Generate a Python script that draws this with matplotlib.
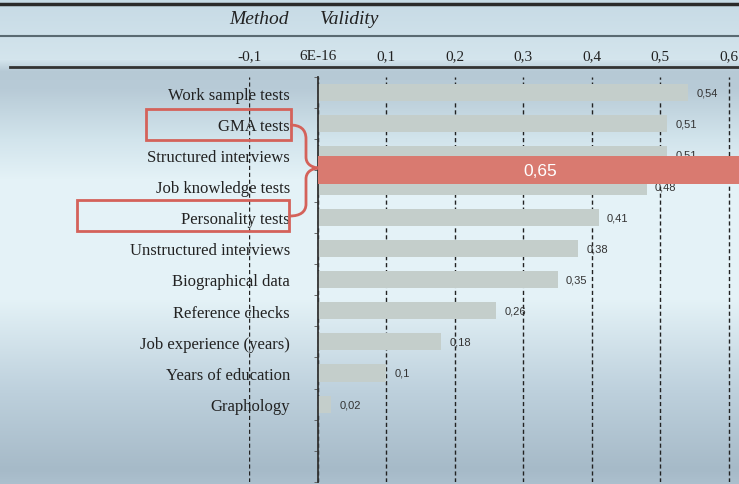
import numpy as np
import matplotlib.pyplot as plt
from matplotlib.path import Path
from matplotlib.patches import PathPatch, Rectangle

methods = ["Work sample tests", "GMA tests", "Structured interviews", "Job knowledge tests",
           "Personality tests", "Unstructured interviews", "Biographical data",
           "Reference checks", "Job experience (years)", "Years of education", "Graphology"]
validity = [0.54, 0.51, 0.51, 0.48, 0.41, 0.38, 0.35, 0.26, 0.18, 0.1, 0.02]
value_labels = ["0,54", "0,51", "0,51", "0,48", "0,41", "0,38", "0,35", "0,26", "0,18", "0,1", "0,02"]
combined = 0.65
combined_label = "0,65"
x_ticks = [-0.1, 0.0, 0.1, 0.2, 0.3, 0.4, 0.5, 0.6]
x_tick_labels = ["-0,1", "6E-16", "0,1", "0,2", "0,3", "0,4", "0,5", "0,6"]
n_rows = 13

W, H = 739, 485
serif = "Liberation Serif"
sans = "Liberation Sans"
bar_gray = "#c4cecb"
red = "#d97a70"
box_red = "#d4625a"

fig = plt.figure(figsize=(W / 100, H / 100), dpi=100)

# slide background gradient
bg = fig.add_axes([0, 0, 1, 1])
stops_y = [0, 60, 72, 90, 140, 180, 300, 390, 470, 485]
stops_c = np.array([(198, 218, 229), (212, 229, 237), (182, 201, 213), (184, 203, 215),
                    (210, 228, 236), (228, 242, 247), (228, 242, 247), (190, 209, 221),
                    (166, 186, 200), (172, 192, 206)]) / 255
ys = np.arange(H)
col = np.stack([np.interp(ys, stops_y, stops_c[:, k]) for k in range(3)], axis=1)
img = np.repeat(col[:, None, :], W, axis=1)
bg.imshow(img, aspect="auto", extent=[0, W, H, 0], interpolation="bilinear")
bg.set_xlim(0, W)
bg.set_ylim(H, 0)
bg.axis("off")

# main chart
top_px, bot_px, left_px = 78, 2, 249
ax = fig.add_axes([left_px / W, bot_px / H, (W - left_px) / W, (H - top_px - bot_px) / H])
ax.patch.set_alpha(0)
ax.set_xlim(-0.1, (W - 318) / 685)
ax.set_ylim(n_rows - 0.5, -0.5)

rows = np.arange(len(methods))
ax.barh(rows, validity, height=0.55, color=bar_gray, zorder=3)
for i, (val, lbl) in enumerate(zip(validity, value_labels)):
    ax.annotate(lbl, (val, i), xytext=(6, 0), textcoords="offset points",
                va="center", ha="left", fontsize=8, family=sans, color="#333333", zorder=4)

ax.barh(2.5, combined, height=0.9, color=red, zorder=6)
ax.text(combined / 2, 2.5, combined_label, color="white", fontsize=12.5, family=sans,
        ha="center", va="center", zorder=7)

ax.set_xticks(x_ticks)
ax.set_xticklabels(x_tick_labels, family=serif, fontsize=11, color="#222222")
ax.xaxis.tick_top()
ax.tick_params(axis="x", length=0, pad=11)
ax.grid(axis="x", color="#222222", linestyle=(0, (3, 2)), linewidth=1, zorder=1)
ax.set_axisbelow(True)

for s in ["top", "right", "bottom"]:
    ax.spines[s].set_visible(False)
ax.spines["left"].set_position(("data", 0))
ax.spines["left"].set_color("#333333")
ax.spines["left"].set_linewidth(1.3)
ax.spines["left"].set_zorder(5)

ax.set_yticks(rows)
ax.set_yticklabels(methods, family=serif, fontsize=12, color="#222222")
ax.set_yticks(np.arange(-0.5, n_rows, 1), minor=True)
ax.tick_params(axis="y", which="major", length=0, pad=20)
ax.tick_params(axis="y", which="minor", length=3, color="#555555")

# overlay: header and annotations
ov = fig.add_axes([0, 0, 1, 1], zorder=10)
ov.patch.set_alpha(0)
ov.set_xlim(0, W)
ov.set_ylim(H, 0)
ov.axis("off")
ov.plot([0, W], [5, 5], color="#2a2a2a", lw=2.5)
ov.plot([0, W], [37, 37], color="#5a6a72", lw=1.5)
ov.plot([10, W], [68, 68], color="#333333", lw=2)
ov.text(229, 19, "Method", family=serif, style="italic", fontsize=14, va="center", color="#222222")
ov.text(320, 19, "Validity", family=serif, style="italic", fontsize=14, va="center", color="#222222")

ov.add_patch(Rectangle((146, 110), 145, 31, fill=False, ec=box_red, lw=2))
ov.add_patch(Rectangle((77, 201), 212, 31, fill=False, ec=box_red, lw=2))
brace = Path([(290, 126), (300, 126), (306, 130), (306, 140),
              (306, 158),
              (306, 164), (310, 168), (318, 169),
              (310, 170), (306, 174), (306, 180),
              (306, 205),
              (306, 213), (300, 217), (290, 217)],
             [Path.MOVETO, Path.CURVE4, Path.CURVE4, Path.CURVE4,
              Path.LINETO,
              Path.CURVE4, Path.CURVE4, Path.CURVE4,
              Path.CURVE4, Path.CURVE4, Path.CURVE4,
              Path.LINETO,
              Path.CURVE4, Path.CURVE4, Path.CURVE4])
ov.add_patch(PathPatch(brace, fill=False, ec=box_red, lw=2))

fig.savefig("out.png", dpi=100)
